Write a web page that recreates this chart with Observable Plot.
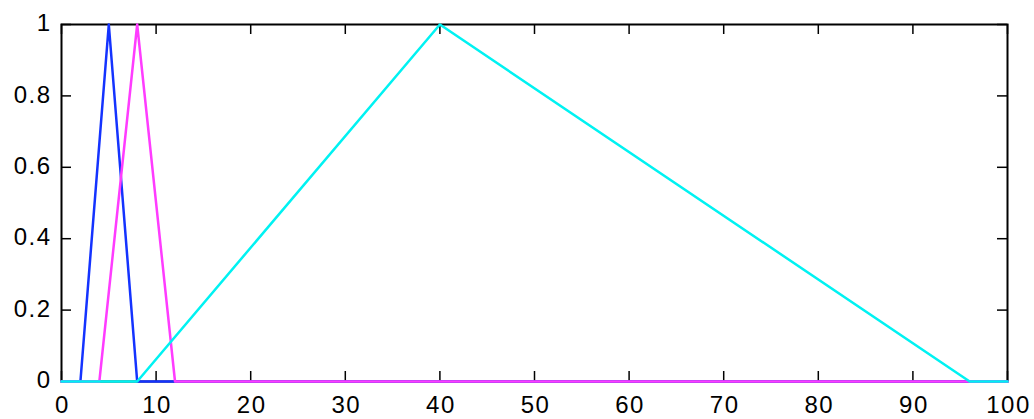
<!DOCTYPE html>
<html>
<head>
<meta charset="utf-8">
<script src="https://cdn.jsdelivr.net/npm/d3@7"></script>
<script src="https://cdn.jsdelivr.net/npm/@observablehq/plot@0.6"></script>
<style>
  html, body { margin: 0; padding: 0; background: #fff; }
  #chart svg { display: block; }
  #chart svg text { font-size: 24px !important; letter-spacing: 1.5px; font-family: 'Liberation Sans', Arial, sans-serif !important; fill: #000; }
</style>
</head>
<body>
<div id="chart"></div>
<script>
// Triangular membership functions: [start, peak, end] on 0..100
const xDomain = [0, 100];
const xTicks = [0, 10, 20, 30, 40, 50, 60, 70, 80, 90, 100];
const yTicks = [0, 0.2, 0.4, 0.6, 0.8, 1];

const blueX = [0, 2, 5, 8, 100];
const blueY = [0, 0, 1, 0, 0];
const magentaX = [0, 4, 8, 12, 100];
const magentaY = [0, 0, 1, 0, 0];
const cyanX = [0, 8, 40, 96, 100];
const cyanY = [0, 0, 1, 0, 0];

const W = 1034, H = 419;
const mL = 61, mR = 27, mT = 24, mB = 38;
const plotH = H - mT - mB, plotW = W - mL - mR;
const tickLen = 10;

const toPts = (xs, ys) => xs.map((x, i) => ({x, y: ys[i]}));

const font = "'Liberation Sans', Arial, sans-serif";

const chart = Plot.plot({
  width: W,
  height: H,
  marginLeft: mL,
  marginRight: mR,
  marginTop: mT,
  marginBottom: mB,
  style: {fontFamily: font, fontSize: "24px", color: "#000", background: "#fff"},
  x: {domain: xDomain},
  y: {domain: [0, 1]},
  marks: [
    Plot.frame({stroke: "#000", strokeWidth: 2}),
    // inward ticks bottom / top
    Plot.tickX(xTicks, {x: d => d, stroke: "#000", strokeWidth: 1.5, insetTop: plotH - tickLen}),
    Plot.tickX(xTicks, {x: d => d, stroke: "#000", strokeWidth: 1.5, insetBottom: plotH - tickLen}),
    // inward ticks left / right
    Plot.tickY(yTicks, {y: d => d, stroke: "#000", strokeWidth: 1.5, insetRight: plotW - tickLen}),
    Plot.tickY(yTicks, {y: d => d, stroke: "#000", strokeWidth: 1.5, insetLeft: plotW - tickLen}),
    Plot.line(toPts(blueX, blueY), {x: "x", y: "y", stroke: "#1433ff", strokeWidth: 2.5}),
    Plot.line(toPts(magentaX, magentaY), {x: "x", y: "y", stroke: "#ff3cff", strokeWidth: 2.5}),
    Plot.line(toPts(cyanX, cyanY), {x: "x", y: "y", stroke: "#00f2f2", strokeWidth: 2.5}),
    Plot.axisX({ticks: xTicks, tickSize: 0, tickPadding: 14, dx: 1, tickFormat: d => String(d), label: null}),
    Plot.axisY({ticks: yTicks, tickSize: 0, tickPadding: 10, dy: -1, tickFormat: d => String(d), label: null})
  ]
});

document.getElementById("chart").appendChild(chart);
</script>
</body>
</html>
